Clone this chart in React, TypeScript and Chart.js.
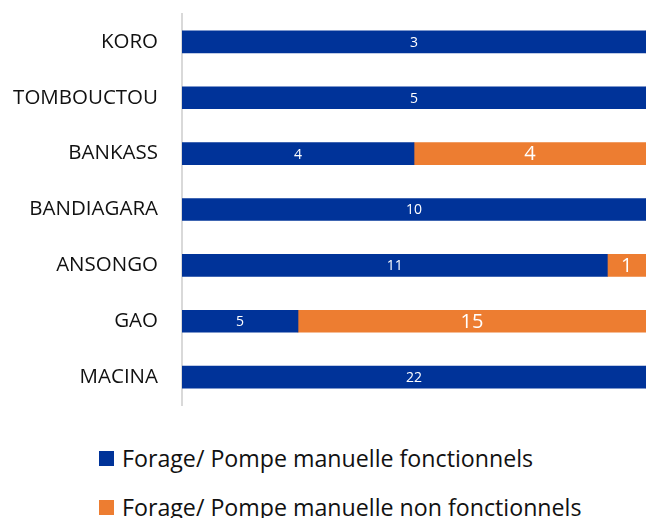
import React, { useEffect, useRef } from "react";
import { Chart, registerables } from "chart.js";

Chart.register(...registerables);

const categories = ["KORO", "TOMBOUCTOU", "BANKASS", "BANDIAGARA", "ANSONGO", "GAO", "MACINA"];
const fonctionnels = [3, 5, 4, 10, 11, 5, 22];
const nonFonctionnels = [0, 0, 4, 0, 1, 15, 0];
const seriesNames = [
  "Forage/ Pompe manuelle fonctionnels",
  "Forage/ Pompe manuelle non fonctionnels",
];
const colors = ["#003399", "#ED7D31"];
const labelSizes = [14, 20];

const FONT = "'Open Sans', sans-serif";

const valueLabels = {
  id: "valueLabels",
  afterDatasetsDraw(chart: any) {
    const ctx = chart.ctx;
    ctx.save();
    ctx.fillStyle = "#ffffff";
    ctx.textAlign = "center";
    ctx.textBaseline = "middle";
    chart.data.datasets.forEach((ds: any, di: number) => {
      const meta = chart.getDatasetMeta(di);
      const raw = ds.rawValues as number[];
      ctx.font = `${labelSizes[di]}px ${FONT}`;
      meta.data.forEach((el: any, i: number) => {
        if (!raw[i]) return;
        const p = el.getCenterPoint();
        ctx.fillText(String(raw[i]), p.x, p.y + 1);
      });
    });
    ctx.restore();
  },
};

export default function App() {
  const ref = useRef<HTMLCanvasElement>(null);

  useEffect(() => {
    const totals = fonctionnels.map((v, i) => v + nonFonctionnels[i]);
    const series = [fonctionnels, nonFonctionnels];
    const chart = new Chart(ref.current as HTMLCanvasElement, {
      type: "bar",
      data: {
        labels: categories,
        datasets: series.map((s, di) => ({
          label: seriesNames[di],
          data: s.map((v, i) => (v / totals[i]) * 100),
          rawValues: s,
          backgroundColor: colors[di],
          borderWidth: 0,
          barThickness: 22,
        })) as any,
      },
      options: {
        indexAxis: "y",
        animation: false,
        responsive: false,
        maintainAspectRatio: false,
        layout: { padding: { top: 14, bottom: 15, left: 0, right: 0 } },
        plugins: {
          legend: { display: false },
          tooltip: { enabled: false },
        },
        scales: {
          x: {
            stacked: true,
            min: 0,
            max: 100,
            display: false,
          },
          y: {
            stacked: true,
            grid: { display: false, drawTicks: false, tickLength: 0 },
            border: { display: true, color: "#d9d9d9", width: 2 },
            ticks: {
              padding: 24,
              color: "#111111",
              font: { family: FONT, size: 20.5 },
            },
            afterFit(scale: any) {
              scale.width = 182;
              scale.paddingTop = 0;
              scale.paddingBottom = 0;
            },
          },
        },
      },
      plugins: [valueLabels],
    });
    return () => chart.destroy();
  }, []);

  const legendRow = (i: number, top: number) => (
    <div
      key={i}
      style={{
        position: "absolute",
        left: 99,
        top,
        display: "flex",
        alignItems: "center",
        fontFamily: FONT,
        fontSize: 23.2,
        color: "#111111",
        whiteSpace: "nowrap",
        lineHeight: "30px",
      }}
    >
      <span
        style={{
          display: "inline-block",
          width: 15,
          height: 15,
          background: colors[i],
          marginRight: 8,
        }}
      />
      <span>{seriesNames[i]}</span>
    </div>
  );

  return (
    <div
      style={{
        position: "absolute",
        left: 0,
        top: 0,
        width: 646,
        height: 518,
        overflow: "hidden",
        background: "#ffffff",
      }}
    >
      <canvas ref={ref} width={646} height={420} style={{ display: "block" }} />
      {legendRow(0, 443)}
      {legendRow(1, 492)}
    </div>
  );
}
